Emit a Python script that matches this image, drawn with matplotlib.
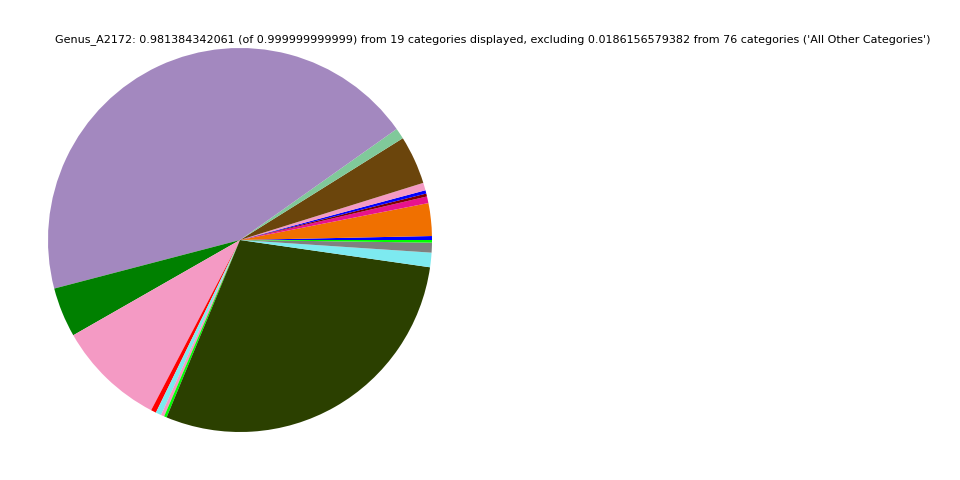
import matplotlib
matplotlib.use('Agg')
import matplotlib.pyplot as plt

title = ("Genus_A2172: 0.981384342061 (of 0.999999999999) from 19 categories displayed, "
         "excluding 0.0186156579382 from 76 categories ('All Other Categories')")

# fractions of the displayed total
values = [0.0033, 0.0275, 0.0056, 0.0025, 0.0028, 0.0064, 0.0408, 0.0092,
          0.4425, 0.0419, 0.0908, 0.0044, 0.0047, 0.0028, 0.0022, 0.2897,
          0.0122, 0.0083, 0.0022]
colors = ['#0000ff', '#f07000', '#e8128c', '#800000', '#0000ff', '#f49ac4',
          '#6b450c', '#80c99a', '#a388bf', '#008000', '#f49ac4', '#ff0000',
          '#7deaf0', '#f49ac4', '#00ff00', '#2b4000', '#7deaf0', '#808080',
          '#00ff00']

fig = plt.figure(figsize=(9.6, 4.8), dpi=100)
ax = fig.add_axes([48 / 960, 48 / 480, 384 / 960, 384 / 480])
ax.pie(values, colors=colors, startangle=0, counterclock=True)
ax.set_xlim(-1, 1)
ax.set_ylim(-1, 1)
ax.set_aspect('equal')

fig.text(493 / 960, 1 - 40 / 480, title, ha='center', va='center', fontsize=8)

fig.savefig('out.png', dpi=100)
